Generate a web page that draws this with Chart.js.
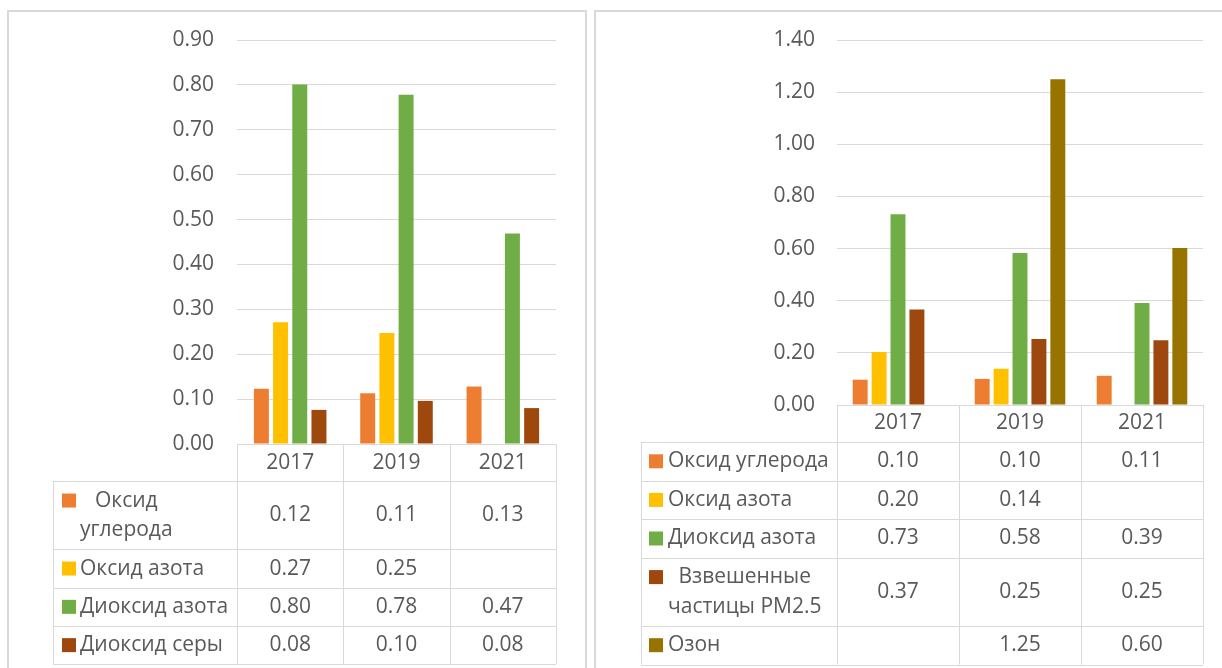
<!DOCTYPE html>
<html>
<head>
<meta charset="utf-8">
<script src="https://cdn.jsdelivr.net/npm/chart.js@4.4.0/dist/chart.umd.min.js"></script>
<style>
	body { margin: 0; background: #fff; width: 1222px; height: 668px; overflow: hidden; position: relative; }
	.panel { position: absolute; border: 2px solid #d9d9d9; box-sizing: border-box; }
	canvas { position: absolute; top: 0; }
</style>
</head>
<body>
<div class="panel" style="left:7px;top:10px;width:580px;height:720px"></div>
<div class="panel" style="left:594px;top:10px;width:700px;height:720px"></div>
<canvas id="leftChart" width="590" height="668" style="left:0"></canvas>
<canvas id="rightChart" width="632" height="668" style="left:590px"></canvas>
<script>
// DATA
const years = ["2017", "2019", "2021"];

const leftNames = ["Оксид углерода", "Оксид азота", "Диоксид азота", "Диоксид серы"];
const leftCO = [0.123, 0.113, 0.128];
const leftNO = [0.271, 0.247, null];
const leftNO2 = [0.801, 0.778, 0.469];
const leftSO2 = [0.076, 0.096, 0.080];
const leftTicks = { max: 0.9, step: 0.1 };

const rightNames = ["Оксид углерода", "Оксид азота", "Диоксид азота", "Взвешенные частицы PM2.5", "Озон"];
const rightCO = [0.097, 0.100, 0.112];
const rightNO = [0.203, 0.139, null];
const rightNO2 = [0.732, 0.583, 0.391];
const rightPM = [0.366, 0.253, 0.248];
const rightO3 = [null, 1.249, 0.602];
const rightTicks = { max: 1.4, step: 0.2 };

const colors = ["#ed7d31", "#ffc000", "#70ad47", "#9e480e", "#997300"];
const textColor = "#595959";
const lineColor = "#d9d9d9";
const FONT = '"Open Sans", "Noto Sans", sans-serif';

// SPLIT A LABEL INTO LINES THAT FIT THE LEGEND COLUMN
function wrapText(ctx, text, maxWidth) {
	if (ctx.measureText(text).width <= maxWidth) return [text];
	let words = text.split(" "), lines = [], cur = "";
	words.forEach(function (w) {
		let test = cur ? cur + " " + w : w;
		if (cur && ctx.measureText(test).width > maxWidth) {
			lines.push(cur);
			cur = w;
		} else {
			cur = test;
		}
	});
	lines.push(cur);
	return lines;
}

function px(v) { return Math.round(v) + 0.5; }

// DATA TABLE UNDER THE PLOT (LIKE EXCEL)
const dataTable = {
	id: "dataTable",
	afterDraw(chart, args, o) {
		const ctx = chart.ctx, a = chart.chartArea;
		const labels = chart.data.labels, sets = chart.data.datasets;
		const colW = (a.right - a.left) / labels.length;
		ctx.save();
		ctx.font = o.fontSize + "px " + FONT;
		ctx.fillStyle = textColor;
		ctx.strokeStyle = lineColor;
		ctx.lineWidth = 1;
		ctx.textBaseline = "middle";

		const textX = o.labelLeft + o.textOffset;
		const avail = a.left - textX - 4;
		const rows = sets.map(function (ds) {
			let lines = wrapText(ctx, ds.label, avail);
			return { ds: ds, lines: lines, h: o.rowHeight + (lines.length - 1) * o.lineHeight };
		});

		// header row with the years
		let top = a.bottom, hb = a.bottom + o.headerHeight;
		ctx.textAlign = "center";
		labels.forEach(function (l, i) {
			ctx.fillText(l, a.left + colW * (i + 0.5), top + o.headerHeight / 2 + o.textShift);
		});
		ctx.beginPath();
		for (let i = 0; i <= labels.length; i++) {
			let x = px(a.left + colW * i);
			ctx.moveTo(x, top);
			ctx.lineTo(x, hb);
		}
		ctx.moveTo(a.left, px(top));
		ctx.lineTo(a.right, px(top));
		ctx.stroke();

		// series rows
		let y = hb;
		rows.forEach(function (r) {
			let cy = y + r.h / 2;
			let firstY = cy - (r.lines.length - 1) * o.lineHeight / 2;
			ctx.fillStyle = r.ds.backgroundColor;
			ctx.fillRect(o.labelLeft + o.keyOffset, firstY - 7, 14, 14);
			ctx.fillStyle = textColor;
			if (r.lines.length === 1) {
				ctx.textAlign = "left";
				ctx.fillText(r.lines[0], textX, cy + o.textShift);
			} else {
				let widest = Math.max.apply(null, r.lines.map(function (l) { return ctx.measureText(l).width; }));
				ctx.textAlign = "center";
				r.lines.forEach(function (l, k) {
					ctx.fillText(l, textX + widest / 2, firstY + k * o.lineHeight + o.textShift);
				});
			}
			ctx.textAlign = "center";
			r.ds.data.forEach(function (v, i) {
				if (v === null) return;
				ctx.fillText(v.toFixed(2), a.left + colW * (i + 0.5), cy + o.textShift);
			});
			ctx.beginPath();
			ctx.moveTo(o.labelLeft, px(y));
			ctx.lineTo(a.right, px(y));
			ctx.moveTo(o.labelLeft, px(y + r.h));
			ctx.lineTo(a.right, px(y + r.h));
			ctx.moveTo(px(o.labelLeft), y);
			ctx.lineTo(px(o.labelLeft), y + r.h);
			for (let i = 0; i <= labels.length; i++) {
				let x = px(a.left + colW * i);
				ctx.moveTo(x, y);
				ctx.lineTo(x, y + r.h);
			}
			ctx.stroke();
			y += r.h;
		});
		ctx.restore();
	}
};

function makeChart(id, names, series, ticks, axisWidth, pad, barOpts, tableOpts) {
	const ctx = document.getElementById(id).getContext("2d");
	return new Chart(ctx, {
		type: "bar",
		data: {
			labels: years,
			datasets: series.map(function (s, i) {
				return {
					label: names[i],
					data: s,
					backgroundColor: colors[i],
					categoryPercentage: barOpts.category,
					barPercentage: barOpts.bar,
				};
			}),
		},
		plugins: [dataTable],
		options: {
			responsive: false,
			animation: false,
			layout: { padding: pad },
			plugins: {
				legend: { display: false },
				tooltip: { enabled: false },
				dataTable: tableOpts,
			},
			scales: {
				x: { display: false },
				y: {
					min: 0,
					max: ticks.max,
					afterFit: function (scale) { scale.width = axisWidth; },
					ticks: {
						stepSize: ticks.step,
						padding: tableOpts.tickPadding,
						color: textColor,
						font: { family: FONT, size: tableOpts.fontSize },
						callback: function (v) { return v.toFixed(2); },
					},
					grid: { color: lineColor, lineWidth: 1, drawTicks: false },
					border: { display: false },
				},
			},
		},
	});
}

makeChart("leftChart", leftNames, [leftCO, leftNO, leftNO2, leftSO2], leftTicks, 237,
	{ left: 0, top: 40, right: 34, bottom: 224 },
	{ category: 0.722, bar: 0.78 },
	{ labelLeft: 53, keyOffset: 9, textOffset: 27, headerHeight: 37.4, rowHeight: 38.3, lineHeight: 29.7, fontSize: 21, textShift: 0, tickPadding: 23 });

makeChart("rightChart", rightNames, [rightCO, rightNO, rightNO2, rightPM, rightO3], rightTicks, 247,
	{ left: 0, top: 40, right: 19, bottom: 263 },
	{ category: 0.775, bar: 0.79 },
	{ labelLeft: 51, keyOffset: 8, textOffset: 27, headerHeight: 37, rowHeight: 38.6, lineHeight: 29.5, fontSize: 21, textShift: 0, tickPadding: 22 });
</script>
</body>
</html>
